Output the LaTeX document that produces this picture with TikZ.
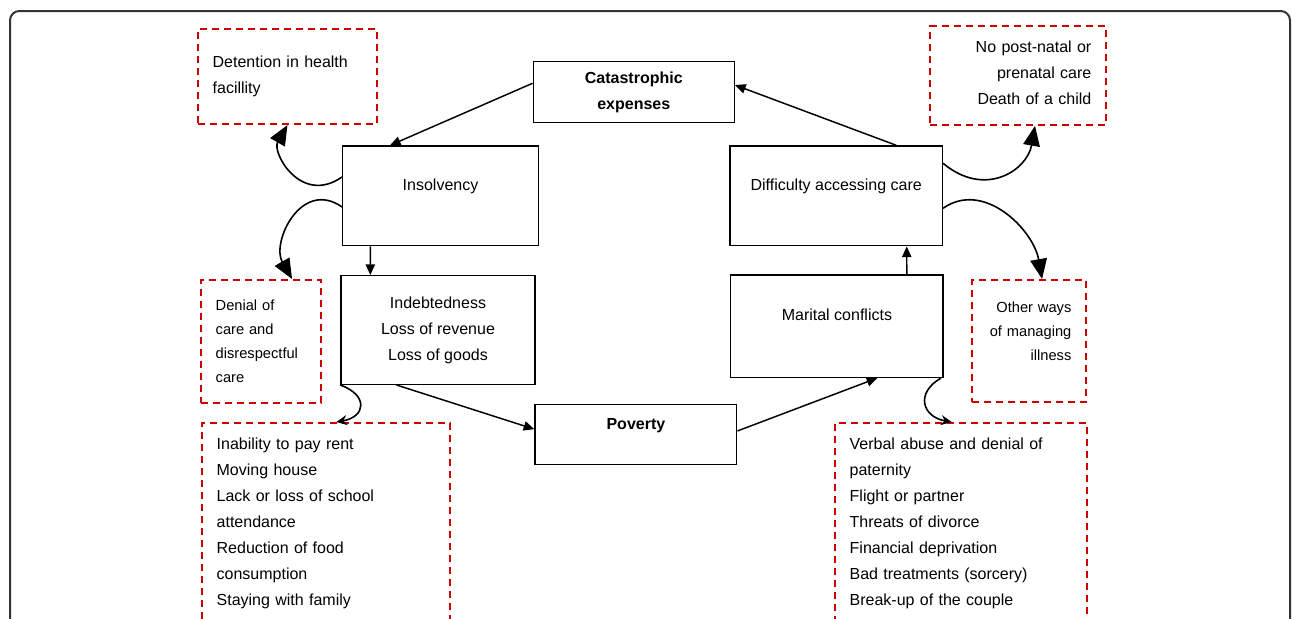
\documentclass[tikz,border=0pt]{standalone}
\usepackage{fontspec}
\setmainfont{Liberation Sans}
\usetikzlibrary{arrows.meta}

\definecolor{notered}{RGB}{204,0,0}
\definecolor{framegray}{RGB}{51,51,51}

\begin{document}
\begin{tikzpicture}[x=0.75pt, y=0.75pt,
  box/.style={draw, line width=1pt, inner sep=0pt, align=center,
    font=\fontsize{12}{19.5}\selectfont},
  boldbox/.style={box, font=\bfseries\fontsize{12}{19.5}\selectfont},
  oneline/.style={text height=9pt, text depth=17pt},
  note/.style={draw=notered, line width=1.5pt, dash pattern=on 5.25pt off 3.75pt,
    inner sep=11pt, font=\fontsize{12}{19.5}\selectfont},
  smallnote/.style={note, font=\fontsize{11}{18}\selectfont},
  arr/.style={line width=1.1pt, -{Triangle[length=8pt, width=7pt]}},
  bigarr/.style={line width=1.2pt, -{Triangle[length=15pt, width=12.5pt]}},
  hookarr/.style={line width=1.2pt, -{Stealth[length=8pt, width=7.5pt]}}]
  \useasboundingbox (0,0) rectangle (1292,-618);
  % outer frame
  \draw[framegray, line width=1.5pt, rounded corners=7pt]
    (10,-700) -- (10,-11) -- (1290,-11) -- (1290,-700);

  % cycle boxes
  \node[boldbox, minimum width=150.75pt, minimum height=45.9pt]
    (cat) at (633.8,-92.1) {Catastrophic\\expenses};
  \node[box, oneline, minimum width=146.7pt, minimum height=74.8pt]
    (ins) at (440.5,-195.9) {Insolvency};
  \node[box, minimum width=145.5pt, minimum height=81.5pt]
    (ind) at (438,-330) {Indebtedness\\Loss of revenue\\Loss of goods};
  \node[boldbox, oneline, minimum width=151.3pt, minimum height=44.7pt]
    (pov) at (635.9,-434.5) {Poverty};
  \node[box, oneline, minimum width=159.2pt, minimum height=76.7pt]
    (mar) at (836.9,-326.2) {Marital conflicts};
  \node[box, oneline, minimum width=159.2pt, minimum height=74.8pt]
    (dif) at (836.2,-195.9) {Difficulty accessing care};

  % consequences
  \node[note, text width=112.25pt, align=left, minimum height=71.25pt]
    (det) at (287.5,-76.5) {Detention in health\\facillity};
  \node[note, text width=110pt, align=right, minimum height=71.25pt,
    text height=9pt, text depth=43pt]
    (nop) at (1018,-75.5) {No post-natal or\\prenatal care\\Death of a child};
  \node[smallnote, text width=68pt, align=left, minimum height=92.25pt]
    (den) at (261,-341.5) {Denial of\\care and\\disrespectful\\care};
  \node[smallnote, text width=63.5pt, align=right, minimum height=91.5pt,
    text height=8pt, text depth=50.6pt]
    (oth) at (1029,-341) {Other ways\\of managing\\illness};
  \node[note, anchor=north west, text width=164pt, align=left,
    text height=9pt, text depth=130pt]
    (ina) at (201,-422) {Inability to pay rent\\Moving house\\Lack or loss of school\\attendance\\Reduction of food\\consumption\\Staying with family};
  \node[note, anchor=north west, text width=167pt, align=left,
    text height=9pt, text depth=130pt]
    (ver) at (834,-422) {Verbal abuse and denial of\\paternity\\Flight or partner\\Threats of divorce\\Financial deprivation\\Bad treatments (sorcery)\\Break-up of the couple};

  % cycle arrows
  \draw[arr] (cat.175) -- (ins.135);
  \draw[arr] (dif.40) -- (cat.4);
  \draw[arr] ([xshift=21.2pt]ins.south west) -- ([xshift=22.5pt]ind.north west);
  \draw[arr] (ind.233) -- (pov.177);
  \draw[arr] (pov.2) -- (mar.-52);
  \draw[arr] ([xshift=132.5pt]mar.north west) -- ([xshift=133pt]dif.south west);

  % curved arrows to consequences
  \draw[bigarr] ([yshift=14.2pt]ins.west) .. controls +(215:50) and +(240:32) .. (det.south);
  \draw[bigarr] ([yshift=-8.3pt]ins.west) .. controls +(145:50) and +(120:42) .. ([xshift=23.3pt]den.north);
  \draw[bigarr] ([yshift=24.5pt]dif.east) .. controls +(-40:55) and +(260:45) .. ([xshift=12.75pt]nop.south);
  \draw[bigarr] ([yshift=-9.3pt]dif.east) .. controls +(35:50) and +(100:50) .. ([xshift=9.8pt]oth.north);
  \draw[hookarr] (ind.south west) .. controls +(-20:30) and +(10:30) .. ([xshift=101.5pt]ina.north west);
  \draw[hookarr] ([xshift=-2pt]mar.south east) .. controls +(210:30) and +(170:30) .. ([xshift=88.3pt]ver.north west);
\end{tikzpicture}
\end{document}
